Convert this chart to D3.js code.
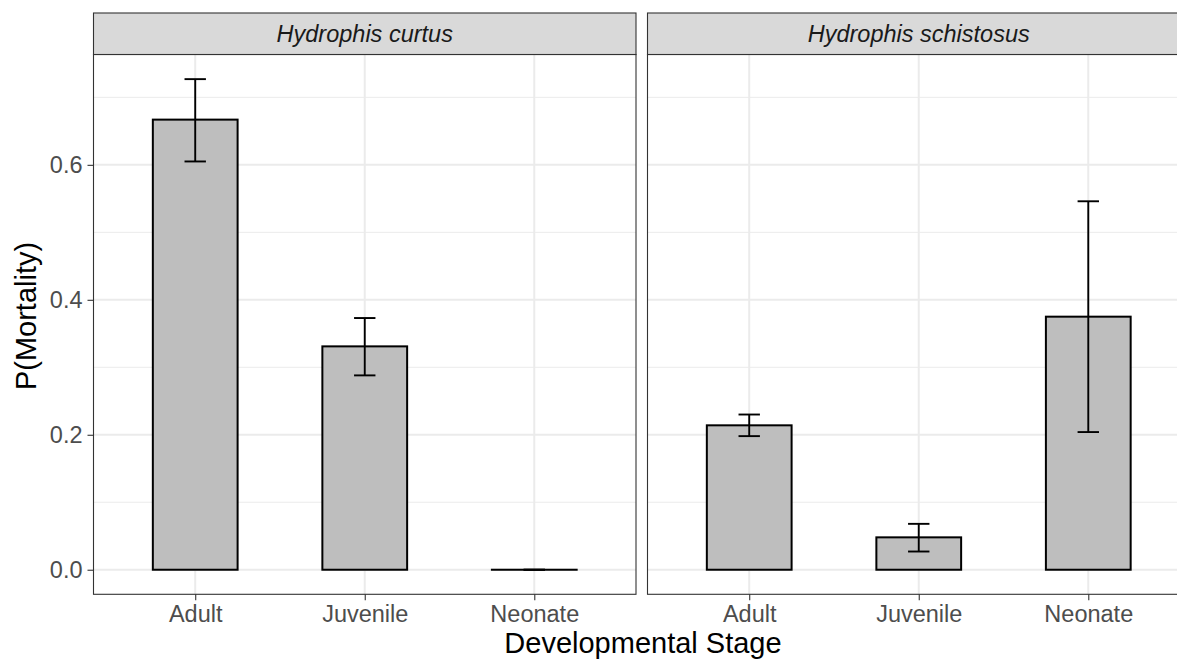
<!DOCTYPE html>
<html>
<head>
<meta charset="utf-8">
<script src="https://cdn.jsdelivr.net/npm/d3@7"></script>
<style>
  html, body { margin: 0; padding: 0; background: #fff; }
  svg { display: block; font-family: "Liberation Sans", Arial, sans-serif; }
</style>
</head>
<body>
<svg id="chart" width="1177" height="663"></svg>
<script>
// ---- data ----
const species = ["Hydrophis curtus", "Hydrophis schistosus"];
const stages = ["Adult", "Juvenile", "Neonate"];
const curtusMean  = [0.667, 0.331, 0.0];
const curtusLower = [0.605, 0.288, 0.0];
const curtusUpper = [0.727, 0.373, 0.0];
const schistMean  = [0.214, 0.048, 0.375];
const schistLower = [0.198, 0.027, 0.204];
const schistUpper = [0.230, 0.068, 0.546];
const yTicks = [0.0, 0.2, 0.4, 0.6];
const yMinor = [0.1, 0.3, 0.5, 0.7];
const yLabel = "P(Mortality)";
const xLabel = "Developmental Stage";

const panelsData = [
  {name: species[0], mean: curtusMean, lo: curtusLower, hi: curtusUpper},
  {name: species[1], mean: schistMean, lo: schistLower, hi: schistUpper}
];

// ---- layout ----
const svg = d3.select("#chart");
const panelTop = 54.5, panelBottom = 594.3, stripTop = 13;
const panelX = [[93.5, 636], [647.5, 1190]];

const y = d3.scaleLinear().domain([-0.0364, 0.7635]).range([panelBottom, panelTop]);

panelsData.forEach((p, pi) => {
  const [x0, x1] = panelX[pi];
  const x = d3.scalePoint().domain(stages).range([x0, x1]).padding(0.6);
  const step = x.step();
  const bw = step * 0.5;
  const g = svg.append("g");

  g.append("rect").attr("x", x0).attr("y", panelTop).attr("width", x1 - x0)
    .attr("height", panelBottom - panelTop).attr("fill", "#fff");

  g.selectAll(".ymin").data(yMinor).enter().append("line")
    .attr("x1", x0).attr("x2", x1).attr("y1", d => y(d)).attr("y2", d => y(d))
    .attr("stroke", "#ebebeb").attr("stroke-width", 1);
  g.selectAll(".ymaj").data(yTicks).enter().append("line")
    .attr("x1", x0).attr("x2", x1).attr("y1", d => y(d)).attr("y2", d => y(d))
    .attr("stroke", "#ebebeb").attr("stroke-width", 2);
  g.selectAll(".xmaj").data(stages).enter().append("line")
    .attr("x1", d => x(d)).attr("x2", d => x(d)).attr("y1", panelTop).attr("y2", panelBottom)
    .attr("stroke", "#ebebeb").attr("stroke-width", 2);

  g.selectAll(".bar").data(stages).enter().append("rect")
    .attr("x", d => x(d) - bw / 2)
    .attr("y", (d, i) => y(p.mean[i]))
    .attr("width", bw)
    .attr("height", (d, i) => Math.max(y(0) - y(p.mean[i]), 0.01))
    .attr("fill", "#bebebe").attr("stroke", "#000").attr("stroke-width", 2);

  const cap = 10.7;
  stages.forEach((s, i) => {
    const cx = x(s);
    const eg = g.append("g").attr("stroke", "#000").attr("stroke-width", 1.9);
    eg.append("line").attr("x1", cx).attr("x2", cx).attr("y1", y(p.lo[i])).attr("y2", y(p.hi[i]));
    eg.append("line").attr("x1", cx - cap).attr("x2", cx + cap).attr("y1", y(p.lo[i])).attr("y2", y(p.lo[i]));
    eg.append("line").attr("x1", cx - cap).attr("x2", cx + cap).attr("y1", y(p.hi[i])).attr("y2", y(p.hi[i]));
  });

  g.append("rect").attr("x", x0).attr("y", panelTop).attr("width", x1 - x0)
    .attr("height", panelBottom - panelTop).attr("fill", "none")
    .attr("stroke", "#333333").attr("stroke-width", 1.1);

  g.append("rect").attr("x", x0).attr("y", stripTop).attr("width", x1 - x0)
    .attr("height", panelTop - stripTop).attr("fill", "#d9d9d9")
    .attr("stroke", "#333333").attr("stroke-width", 1.1);
  g.append("text").attr("x", (x0 + x1) / 2).attr("y", 41.5)
    .attr("text-anchor", "middle").attr("font-style", "italic")
    .attr("font-size", 23.5).attr("fill", "#1a1a1a").text(p.name);

  const xa = g.append("g").attr("transform", `translate(0,${panelBottom})`)
    .call(d3.axisBottom(x).tickSize(6).tickPadding(5));
  xa.select(".domain").remove();
  xa.selectAll(".tick line").attr("stroke", "#333333").attr("stroke-width", 1.1);
  xa.selectAll(".tick text").attr("fill", "#4d4d4d").attr("font-size", 23.5)
    .attr("font-family", "Liberation Sans, Arial, sans-serif");

  if (pi === 0) {
    const ya = g.append("g").attr("transform", `translate(${x0},0)`)
      .call(d3.axisLeft(y).tickValues(yTicks).tickFormat(d3.format(".1f")).tickSize(6).tickPadding(5));
    ya.select(".domain").remove();
    ya.selectAll(".tick line").attr("stroke", "#333333").attr("stroke-width", 1.1);
    ya.selectAll(".tick text").attr("fill", "#4d4d4d").attr("font-size", 23.5)
      .attr("font-family", "Liberation Sans, Arial, sans-serif");
  }
});

svg.append("text").attr("x", 643).attr("y", 653)
  .attr("text-anchor", "middle").attr("font-size", 29).attr("fill", "#000").text(xLabel);
svg.append("text").attr("transform", "translate(36,316) rotate(-90)")
  .attr("text-anchor", "middle").attr("font-size", 29).attr("fill", "#000").text(yLabel);
</script>
</body>
</html>
